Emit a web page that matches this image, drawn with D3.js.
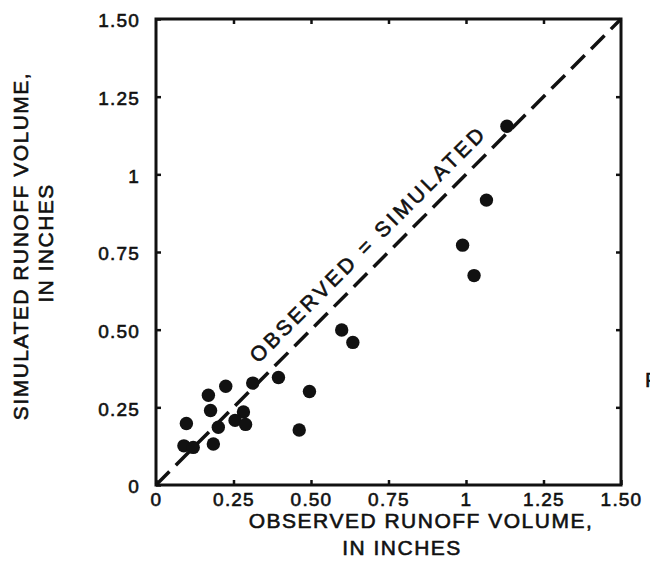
<!DOCTYPE html>
<html>
<head>
<meta charset="utf-8">
<script src="https://cdn.jsdelivr.net/npm/d3@7"></script>
<style>
  body { margin: 0; background: #fff; }
  svg { display: block; }
  text { font-family: "Liberation Sans", Arial, Helvetica, sans-serif; fill: #111; stroke: #111; stroke-width: 0.6px; }
</style>
</head>
<body>
<div id="chart"></div>
<script>
// observed vs simulated runoff volume, inches
let observed  = [1.132, 1.066, 0.989, 1.026, 0.599, 0.635, 0.395, 0.495, 0.312, 0.225, 0.169,
                 0.098, 0.176, 0.282, 0.255, 0.289, 0.201, 0.090, 0.120, 0.185, 0.462];
let simulated = [1.155, 0.917, 0.772, 0.674, 0.499, 0.459, 0.346, 0.301, 0.328, 0.318, 0.289,
                 0.198, 0.240, 0.235, 0.208, 0.195, 0.186, 0.126, 0.121, 0.132, 0.177];
let tickValues = [0, 0.25, 0.5, 0.75, 1, 1.25, 1.5];
let tickLabels = ["0", "0.25", "0.50", "0.75", "1", "1.25", "1.50"];

let width = 650, height = 583;
let svg = d3.select("#chart").append("svg")
    .attr("width", width)
    .attr("height", height);

let x = d3.scaleLinear().domain([0, 1.5]).range([156, 621]);
let y = d3.scaleLinear().domain([0, 1.5]).range([485, 19]);
let fmt = function(d){ return tickLabels[tickValues.indexOf(d)]; };

//bottom axis, ticks point inward
let xAxis = svg.append("g")
    .attr("transform", "translate(0," + y(0) + ")")
    .call(d3.axisBottom(x).tickValues(tickValues).tickFormat(fmt).tickSizeInner(-5).tickSizeOuter(0).tickPadding(8));
//top axis, ticks only
let xTop = svg.append("g")
    .attr("transform", "translate(0," + y(1.5) + ")")
    .call(d3.axisTop(x).tickValues(tickValues.slice(1, -1)).tickFormat("").tickSizeInner(-5).tickSizeOuter(0));
//left axis
let yAxis = svg.append("g")
    .attr("transform", "translate(" + x(0) + ",0)")
    .call(d3.axisLeft(y).tickValues(tickValues).tickFormat(fmt).tickSizeInner(-5).tickSizeOuter(0).tickPadding(16));
//right axis, ticks only
let yRight = svg.append("g")
    .attr("transform", "translate(" + x(1.5) + ",0)")
    .call(d3.axisRight(y).tickValues(tickValues.slice(1, -1)).tickFormat("").tickSizeInner(-5).tickSizeOuter(0));

svg.selectAll(".domain").remove();
svg.selectAll(".tick line").attr("stroke", "#111").attr("stroke-width", 2.5);
svg.selectAll(".tick text")
    .style("font-size", "19px")
    .attr("letter-spacing", "1.2px")
    .style("font-family", "'Liberation Sans', Arial, sans-serif")
    .attr("fill", "#111");
yAxis.selectAll(".tick text").attr("dy", "0.42em");

//frame
svg.append("rect")
    .attr("x", x(0)).attr("y", y(1.5))
    .attr("width", x(1.5) - x(0)).attr("height", y(0) - y(1.5))
    .attr("fill", "none")
    .attr("stroke", "#111")
    .attr("stroke-width", 3);

//1:1 line
svg.append("line")
    .attr("x1", x(0)).attr("y1", y(0))
    .attr("x2", x(1.5)).attr("y2", y(1.5))
    .attr("stroke", "#111")
    .attr("stroke-width", 3.5)
    .attr("stroke-dasharray", "19,9");

svg.append("text")
    .attr("transform", "translate(" + x(0.73) + "," + y(0.73) + ") rotate(-45)")
    .attr("y", -13)
    .attr("text-anchor", "middle")
    .attr("letter-spacing", "3.3px")
    .style("font-size", "21px")
    .text("OBSERVED = SIMULATED");

//points
svg.selectAll("myDots")
    .data(observed)
    .enter()
    .append("circle")
    .attr("cx", function(d){ return x(d); })
    .attr("cy", function(d, i){ return y(simulated[i]); })
    .attr("r", 6.7)
    .attr("fill", "#111");

//axis titles
svg.append("text")
    .attr("x", 421).attr("y", 528)
    .attr("text-anchor", "middle")
    .attr("letter-spacing", "1.5px")
    .style("font-size", "21px")
    .text("OBSERVED RUNOFF VOLUME,");
svg.append("text")
    .attr("x", 402).attr("y", 555)
    .attr("text-anchor", "middle")
    .attr("letter-spacing", "1.5px")
    .style("font-size", "21px")
    .text("IN INCHES");

svg.append("text")
    .attr("transform", "translate(28,246) rotate(-90)")
    .attr("text-anchor", "middle")
    .attr("letter-spacing", "1.5px")
    .style("font-size", "21px")
    .text("SIMULATED RUNOFF VOLUME,");
svg.append("text")
    .attr("transform", "translate(53,243) rotate(-90)")
    .attr("text-anchor", "middle")
    .attr("letter-spacing", "1.5px")
    .style("font-size", "21px")
    .text("IN INCHES");

//cut-off caption at right edge, as in the source scan
svg.append("text")
    .attr("x", 645).attr("y", 387)
    .style("font-size", "21px")
    .text("F");
</script>
</body>
</html>
